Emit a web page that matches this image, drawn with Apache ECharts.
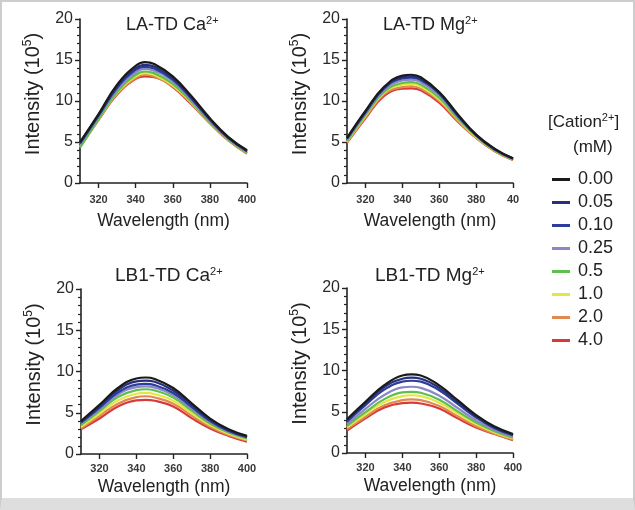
<!DOCTYPE html>
<html><head><meta charset="utf-8">
<script src="https://cdn.jsdelivr.net/npm/echarts@6/dist/echarts.min.js"></script>
<style>
html,body{margin:0;padding:0;background:#fff;}
#c{width:635px;height:510px;position:absolute;left:0;top:0;}
#frame{position:absolute;left:0;top:0;width:635px;height:510px;box-sizing:border-box;border:2px solid #cdcdcd;border-bottom:12px solid #dedede;pointer-events:none;}
</style></head>
<body><div id="c"></div><div id="frame"></div>
<script>
// ---- data ----
const wavelengths = [310, 320, 330, 340, 345, 350, 360, 370, 380, 390, 400];
const concentrations = ['0.00', '0.05', '0.10', '0.25', '0.5', '1.0', '2.0', '4.0'];
const lineColors = ['#1a1a1a', '#27307a', '#2e3d9c', '#8a88c8', '#5cbf4e', '#e6e640', '#e08a52', '#d83a3a'];
const panelTitles = ['LA-TD Ca', 'LA-TD Mg', 'LB1-TD Ca', 'LB1-TD Mg'];
const yTicks = [0, 5, 10, 15, 20];
const xTicks = [320, 340, 360, 380, 400];
const xTickLabelsTop = ['320', '340', '360', '380', '400'];
const xTickLabelsTopRight = ['320', '340', '360', '380', '40'];
const xTickLabelsBottom = ['320', '340', '360', '380', '400'];

// LA-TD Ca2+ (rows: 0.00 ... 4.0 mM)
const laCa = [
  [5.0, 8.4, 12.0, 14.3, 14.75, 14.5, 13.0, 10.6, 7.9, 5.6, 4.0],
  [4.9, 8.3, 11.8, 14.0, 14.4, 14.2, 12.8, 10.4, 7.8, 5.5, 3.9],
  [4.8, 8.2, 11.6, 13.8, 14.15, 13.95, 12.6, 10.3, 7.7, 5.5, 3.9],
  [4.7, 8.1, 11.4, 13.5, 13.9, 13.7, 12.4, 10.1, 7.6, 5.4, 3.8],
  [4.3, 7.8, 11.1, 13.2, 13.6, 13.4, 12.1, 9.9, 7.4, 5.3, 3.7],
  [4.4, 7.8, 11.0, 13.0, 13.4, 13.2, 11.9, 9.8, 7.4, 5.3, 3.7],
  [4.4, 7.7, 10.9, 12.8, 13.2, 13.0, 11.8, 9.7, 7.3, 5.2, 3.6],
  [4.4, 7.7, 10.8, 12.7, 13.0, 12.9, 11.7, 9.6, 7.3, 5.2, 3.6]
];
// LA-TD Mg2+
const laMg = [
  [5.5, 8.8, 11.7, 13.1, 13.2, 12.9, 11.1, 8.4, 5.9, 4.2, 3.0],
  [5.4, 8.7, 11.6, 12.9, 13.0, 12.7, 11.0, 8.3, 5.9, 4.1, 3.0],
  [5.4, 8.6, 11.5, 12.75, 12.85, 12.55, 10.9, 8.2, 5.8, 4.1, 3.0],
  [5.3, 8.5, 11.3, 12.5, 12.6, 12.3, 10.7, 8.1, 5.8, 4.1, 2.9],
  [5.1, 8.3, 11.1, 12.2, 12.3, 12.0, 10.4, 7.9, 5.7, 4.0, 2.9],
  [5.0, 8.2, 11.0, 12.0, 12.1, 11.8, 10.2, 7.8, 5.6, 4.0, 2.9],
  [5.0, 8.0, 10.8, 11.7, 11.8, 11.5, 10.0, 7.6, 5.5, 3.9, 2.8],
  [4.9, 7.9, 10.6, 11.5, 11.55, 11.3, 9.8, 7.5, 5.5, 3.9, 2.8]
];
// LB1-TD Ca2+
const lbCa = [
  [4.0, 5.95, 8.0, 9.15, 9.27, 9.1, 8.0, 6.15, 4.3, 3.0, 2.2],
  [3.9, 5.8, 7.75, 8.8, 8.9, 8.75, 7.7, 5.95, 4.2, 2.9, 2.1],
  [3.8, 5.6, 7.45, 8.4, 8.5, 8.35, 7.4, 5.7, 4.0, 2.8, 2.05],
  [3.7, 5.4, 7.2, 8.1, 8.2, 8.05, 7.15, 5.5, 3.9, 2.7, 2.0],
  [3.5, 5.2, 6.9, 7.75, 7.85, 7.7, 6.85, 5.25, 3.7, 2.6, 1.9],
  [3.3, 4.9, 6.5, 7.3, 7.4, 7.25, 6.45, 4.95, 3.5, 2.45, 1.75],
  [3.1, 4.6, 6.1, 6.9, 7.0, 6.85, 6.1, 4.65, 3.3, 2.3, 1.65],
  [3.0, 4.3, 5.75, 6.5, 6.56, 6.45, 5.75, 4.35, 3.1, 2.2, 1.5]
];
// LB1-TD Mg2+
const lbMg = [
  [4.1, 6.2, 8.2, 9.4, 9.53, 9.4, 8.2, 6.4, 4.6, 3.2, 2.3],
  [4.0, 6.0, 7.95, 9.0, 9.13, 9.0, 7.9, 6.15, 4.45, 3.1, 2.2],
  [3.8, 5.8, 7.65, 8.65, 8.76, 8.65, 7.6, 5.95, 4.3, 3.0, 2.15],
  [3.5, 5.35, 7.0, 7.95, 8.03, 7.9, 6.95, 5.45, 3.95, 2.8, 2.0],
  [3.3, 4.95, 6.5, 7.35, 7.42, 7.3, 6.45, 5.05, 3.7, 2.65, 1.85],
  [3.1, 4.7, 6.15, 6.9, 7.0, 6.9, 6.1, 4.8, 3.5, 2.5, 1.75],
  [2.9, 4.4, 5.75, 6.4, 6.5, 6.4, 5.7, 4.45, 3.25, 2.35, 1.65],
  [2.7, 4.2, 5.5, 6.05, 6.1, 6.0, 5.4, 4.2, 3.1, 2.3, 1.55]
];

// ---- layout ----
const FONT = '"Liberation Sans", Arial, sans-serif';
const panels = [
  {data: laCa, grid: {left: 80, top: 19, width: 167, height: 164}, xLabels: xTickLabelsTop, title: {left: 126, top: 15, size: 18}, xLabelMargin: 11, xNameGap: 29},
  {data: laMg, grid: {left: 347, top: 19, width: 166, height: 164}, xLabels: xTickLabelsTopRight, title: {left: 383, top: 15, size: 18}, xLabelMargin: 11, xNameGap: 29},
  {data: lbCa, grid: {left: 81, top: 289, width: 166, height: 165}, xLabels: xTickLabelsBottom, title: {left: 115, top: 266, size: 19}, xLabelMargin: 9, xNameGap: 24},
  {data: lbMg, grid: {left: 347, top: 288, width: 166, height: 165}, xLabels: xTickLabelsBottom, title: {left: 375, top: 266, size: 19}, xLabelMargin: 9, xNameGap: 24}
];

const supStyle = {fontSize: 11, verticalAlign: 'top', lineHeight: 12, fontFamily: FONT, color: '#222'};
const supStyleY = {fontSize: 12, verticalAlign: 'top', lineHeight: 13, fontFamily: FONT, color: '#222'};
const grids = [], xAxes = [], yAxes = [], series = [], titles = [];
panels.forEach((p, i) => {
  grids.push(Object.assign({containLabel: false}, p.grid));
  const labels = p.xLabels;
  xAxes.push({
    type: 'value', gridIndex: i, min: 310, max: 400,
    axisLine: {lineStyle: {color: '#222', width: 1.6}},
    axisTick: {show: true, length: 5, inside: false, customValues: xTicks, lineStyle: {color: '#222', width: 1.4}},
    axisLabel: {customValues: xTicks, margin: p.xLabelMargin, fontSize: 11, fontWeight: 'bold', color: '#3a3a3a', fontFamily: FONT,
      formatter: v => labels[xTicks.indexOf(v)] ?? String(v)},
    splitLine: {show: false},
    name: 'Wavelength (nm)', nameLocation: 'middle', nameGap: p.xNameGap,
    nameTextStyle: {fontSize: 17.5, color: '#222', fontFamily: FONT}
  });
  yAxes.push({
    type: 'value', gridIndex: i, min: 0, max: 20, interval: 5,
    axisLine: {show: true, lineStyle: {color: '#222', width: 1.6}},
    axisTick: {show: true, length: 5, lineStyle: {color: '#222', width: 1.4}},
    minorTick: {show: true, splitNumber: 5, length: 3, lineStyle: {color: '#222', width: 1.2}},
    axisLabel: {margin: 7, fontSize: 16, color: '#2a2a2a', fontFamily: FONT, formatter: v => yTicks.includes(v) ? String(v) : ''},
    splitLine: {show: false},
    name: 'Intensity (10{s|5})', nameLocation: 'middle', nameGap: 36, nameRotate: 90,
    nameTextStyle: {fontSize: 20, color: '#222', fontFamily: FONT, lineHeight: 22, padding: [0, 0, 0, 14], rich: {s: supStyleY}}
  });
  p.data.forEach((vals, k) => {
    series.push({
      type: 'line', name: concentrations[k], xAxisIndex: i, yAxisIndex: i,
      data: wavelengths.map((w, j) => [w, vals[j]]),
      smooth: 0.45, showSymbol: false, symbol: 'none',
      lineStyle: {width: 2.2, color: lineColors[k]}, itemStyle: {color: lineColors[k]},
      z: 10 - k, silent: true
    });
  });
  titles.push({
    text: panelTitles[i] + '{s|2+}', left: p.title.left, top: p.title.top, padding: 0,
    textStyle: {fontSize: p.title.size, fontWeight: 'normal', color: '#222', fontFamily: FONT, lineHeight: 20, rich: {s: supStyle}}
  });
});
titles.push({text: '[Cation{s|2+}]', left: 548, top: 112, padding: 0,
  textStyle: {fontSize: 17, fontWeight: 'normal', color: '#222', fontFamily: FONT, lineHeight: 20, rich: {s: supStyle}}});
titles.push({text: '(mM)', left: 573, top: 137, padding: 0,
  textStyle: {fontSize: 17, fontWeight: 'normal', color: '#222', fontFamily: FONT, lineHeight: 20}});

const chart = echarts.init(document.getElementById('c'), null, {renderer: 'canvas'});
chart.setOption({
  animation: false,
  backgroundColor: '#fff',
  title: titles,
  grid: grids, xAxis: xAxes, yAxis: yAxes, series: series,
  legend: {
    data: concentrations, orient: 'vertical', left: 552, top: 168, padding: 0,
    icon: 'rect', itemWidth: 18, itemHeight: 3, itemGap: 0,
    textStyle: {fontSize: 18, lineHeight: 23, color: '#222', fontFamily: FONT, padding: [0, 0, 0, 3]}
  }
});
</script></body></html>
